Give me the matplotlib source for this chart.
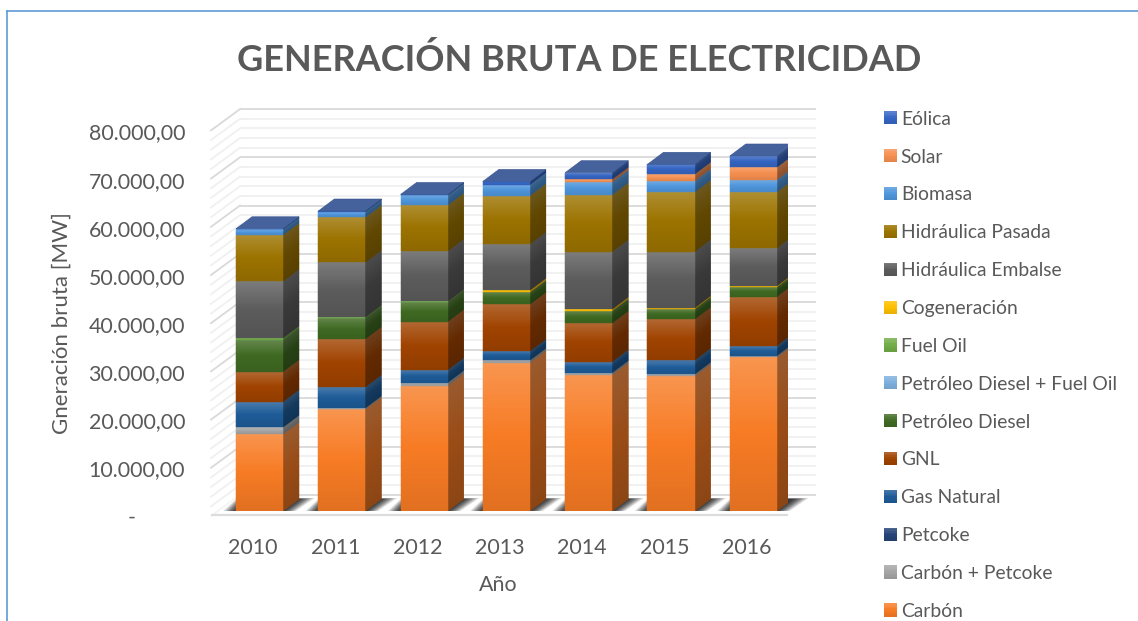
import numpy as np
import matplotlib
matplotlib.use("Agg")
import matplotlib.pyplot as plt
from matplotlib.collections import PolyCollection
from matplotlib.colors import to_rgb
from matplotlib.lines import Line2D
from matplotlib.patches import Rectangle, Polygon
from matplotlib.legend_handler import HandlerPatch

plt.rcParams['font.family'] = ['Lato', 'DejaVu Sans']

years = ['2010', '2011', '2012', '2013', '2014', '2015', '2016']
carbon = [15920, 21100, 26000, 30770, 28280, 28010, 31890]
carbon_petcoke = [1450, 270, 620, 500, 415, 350, 330]
petcoke = [0, 0, 0, 0, 0, 0, 0]
gas_natural = [5310, 4360, 2635, 1870, 2280, 2900, 2075]
gnl = [6225, 9960, 10020, 9750, 8030, 8510, 10170]
diesel = [6580, 4300, 4090, 2490, 2550, 2140, 2010]
diesel_fuel = [0, 0, 0, 0, 0, 0, 0]
fuel_oil = [415, 200, 100, 0, 0, 0, 0]
cogeneracion = [0, 0, 0, 415, 310, 210, 210]
embalse = [11765, 11410, 10440, 9610, 11930, 11680, 7890]
pasada = [9610, 9340, 9545, 10020, 11830, 12330, 11620]
biomasa = [1180, 1160, 2075, 2280, 2640, 2340, 2550]
solar = [0, 0, 0, 0, 540, 1390, 2570]
eolica = [100, 140, 150, 680, 1390, 2075, 2340]

series_names = ['Carbón', 'Carbón + Petcoke', 'Petcoke', 'Gas Natural', 'GNL', 'Petróleo Diesel',
                'Petróleo Diesel + Fuel Oil', 'Fuel Oil', 'Cogeneración', 'Hidráulica Embalse',
                'Hidráulica Pasada', 'Biomasa', 'Solar', 'Eólica']
series_values = [carbon, carbon_petcoke, petcoke, gas_natural, gnl, diesel, diesel_fuel, fuel_oil,
                 cogeneracion, embalse, pasada, biomasa, solar, eolica]
series_colors = ['#F77B24', '#A5A5A5', '#264478', '#1E5C98', '#A04300', '#3F6A22', '#7CAFDD', '#70AD47',
                 '#FFC000', '#5C5C5C', '#9C7300', '#4F96DC', '#F58F50', '#3565C3']
y_ticks = [0, 10000, 20000, 30000, 40000, 50000, 60000, 70000, 80000]
y_labels = ['-         ', '10.000,00', '20.000,00', '30.000,00', '40.000,00', '50.000,00',
            '60.000,00', '70.000,00', '80.000,00']

W, H = 1138, 621
fig = plt.figure(figsize=(W / 100, H / 100), dpi=100, facecolor='white')


def axes_px(left, right, bottom, top):
    return fig.add_axes([left / W, 1 - bottom / H, (right - left) / W, (bottom - top) / H])


PX_X = 82.3
PX_Y = 48.2 / 10000
ax = axes_px(211, 788, 511, 511 - 80000 * PX_Y)
ax.set_xlim((211 - 259.5) / PX_X, (788 - 259.5) / PX_X)
ax.set_ylim(0, 80000)
ax.axis('off')


def px_dx(p):
    return p / PX_X


def px_dy(p):
    return p / PX_Y


def mix(c, other, t):
    return tuple((1 - t) * np.array(c) + t * np.array(other))


def grad(base, t, shade=1.0):
    c = np.array(to_rgb(base))
    if t < 0.5:
        out = mix(c, (1, 1, 1), 0.2 * (1 - t / 0.5))
    else:
        out = c * (1 - 0.09 * (t - 0.5) / 0.5)
    return tuple(np.clip(np.array(out) * shade, 0, 1))


# walls
WALL_DX = px_dx(29)
WALL_BACK = px_dy(16.3)
WALL_FRONT = px_dy(-5.0)
x_front0, x_front1 = ax.get_xlim()
x_back0 = x_front0 + WALL_DX
x_back1 = (816 - 259.5) / PX_X
for v in range(0, 80001, 2000):
    major = v % 10000 == 0
    col = '#D9D9D9' if major else '#F0F0F0'
    lw = 1.3
    ax.plot([x_back0, x_back1], [v + WALL_BACK] * 2, color=col, lw=lw, zorder=1 if not major else 1.2,
            clip_on=False, solid_capstyle='butt')
    if v > 0:
        ax.plot([x_front0, x_back0], [v + WALL_FRONT, v + WALL_BACK], color=col, lw=lw,
                zorder=1 if not major else 1.2, clip_on=False)
ax.plot([x_front0, x_back0], [WALL_FRONT, WALL_BACK], color='#F2F2F2', lw=1.0, zorder=1.1, clip_on=False)
ax.plot([x_front0, x_front1], [px_dy(-4.0)] * 2, color='#DCDCDC', lw=1.6, zorder=1.3, clip_on=False,
        solid_capstyle='butt')

BAR_W = 47 / PX_X
DX = px_dx(16)
DY = px_dy(12)
positions = np.arange(len(years))


def strips(x0, x1, y0, y1, base, shade=1.0, slant=(0.0, 0.0)):
    n = max(2, int(abs(y1 - y0) * PX_Y))
    edges = np.linspace(y1, y0, n + 1)
    polys, cols = [], []
    for k in range(n):
        a, b = edges[k], edges[k + 1]
        polys.append([(x0, b), (x1, b + slant[1]), (x1, a + slant[1]), (x0, a)])
        cols.append(grad(base, (k + 0.5) / n, shade))
    return polys, cols


# floor shadows
for xc in positions:
    L = xc - BAR_W / 2
    R = xc + BAR_W / 2
    for k in range(12):
        t = k / 11
        pts = [(L - px_dx(13 * (1 - t)), 0),
               (R + px_dx(13 * (1 - t)), 0),
               (R + px_dx(16 + 16 * (1 - t)), px_dy(13 - 1 * t)),
               (L + px_dx(1 + 8 * t), px_dy(13 - 1 * t))]
        ax.add_patch(Polygon(pts, closed=True, facecolor='#202020', edgecolor='none', alpha=0.10 + 0.12 * t,
                             zorder=3, clip_on=False))

cum = np.zeros(len(years))
for name, vals, col in zip(series_names, series_values, series_colors):
    vals = np.array(vals, dtype=float)
    ax.bar(positions, vals, BAR_W, bottom=cum, color=col, linewidth=0, zorder=4)
    for i, v in enumerate(vals):
        if v <= 0:
            continue
        L = positions[i] - BAR_W / 2
        R = positions[i] + BAR_W / 2
        polys, cols = strips(L, R, cum[i], cum[i] + v, col)
        ax.add_collection(PolyCollection(polys, facecolors=cols, edgecolors=cols, linewidths=0.3, zorder=4.1))
        # opaque underlay: thin slanted strips alone would let the background through
        b0, t0 = cum[i], cum[i] + v
        ax.add_patch(Polygon([(R, b0), (R + DX, b0 + DY), (R + DX, t0 + DY), (R, t0)], closed=True,
                             facecolor=grad(col, 0.5, 0.62), edgecolor='none', zorder=3.8))
        polys, cols = strips(R, R + DX, b0, t0, col, shade=0.62, slant=(0, DY))
        ax.add_collection(PolyCollection(polys, facecolors=cols, edgecolors=cols, linewidths=0.3, zorder=3.9))
    cum = cum + vals

for i, t in enumerate(cum):
    L = positions[i] - BAR_W / 2
    R = positions[i] + BAR_W / 2
    ax.add_patch(Polygon([(L, t), (R, t), (R + DX, t + DY), (L + DX, t + DY)], closed=True,
                         facecolor='#46629C', edgecolor='#3A5690', linewidth=0.4, zorder=4.2))

# tick labels live on a slightly shifted frame, as in the reference
axl = axes_px(211 - 6.5, 788 - 6.5, 516.5, 516.5 - 80000 * 48.125 / 10000)
axl.set_xlim(ax.get_xlim())
axl.set_ylim(0, 80000)
axl.patch.set_alpha(0)
for s in axl.spines.values():
    s.set_visible(False)
axl.set_xticks(positions, years)
axl.set_yticks(y_ticks, y_labels)
axl.tick_params(axis='both', length=0, colors='#595959', labelsize=15.4)
axl.tick_params(axis='x', pad=15.5)
axl.tick_params(axis='y', pad=14)
axl.set_xlabel('Año', fontsize=15.4, color='#595959', labelpad=12.5, x=0.5087)
fig.text(62 / W, 1 - 323 / H, 'Gneración bruta [MW]', rotation=90, fontsize=16, color='#595959',
         ha='center', va='center')

fig.text(579 / W, 1 - 60 / H, 'GENERACIÓN BRUTA DE ELECTRICIDAD', fontsize=26, fontweight='bold',
         color='#595959', ha='center', va='center')


class GradHandler(HandlerPatch):
    def create_artists(self, legend, orig, xd, yd, width, height, fontsize, trans):
        out = []
        n = 8
        for k in range(n):
            c = grad(orig.get_facecolor()[:3], (k + 0.5) / n)
            out.append(Rectangle((-xd, -yd + height * (1 - (k + 1) / n)), width, height / n + 0.05,
                                 facecolor=c, edgecolor='none', transform=trans))
        return out


handles = [Rectangle((0, 0), 1, 1, facecolor=c) for c in series_colors][::-1]
labels = series_names[::-1]
leg = fig.legend(handles, labels, loc='upper left', bbox_to_anchor=(884 / W, 1 - 110.7 / H),
                 bbox_transform=fig.transFigure, frameon=False, fontsize=13.9, labelcolor='#595959',
                 borderpad=0, borderaxespad=0, handlelength=0.67, handleheight=0.67, handletextpad=0.2,
                 labelspacing=1.08, handler_map={Rectangle: GradHandler()})

blue = '#5B9BD5'
fig.add_artist(Line2D([6.5 / W, 6.5 / W], [0, 1 - 10.5 / H], color=blue, lw=1.2))
fig.add_artist(Line2D([6.5 / W, 1], [1 - 10.5 / H] * 2, color=blue, lw=1.2))

fig.savefig('out.png', dpi=100, facecolor='white')
